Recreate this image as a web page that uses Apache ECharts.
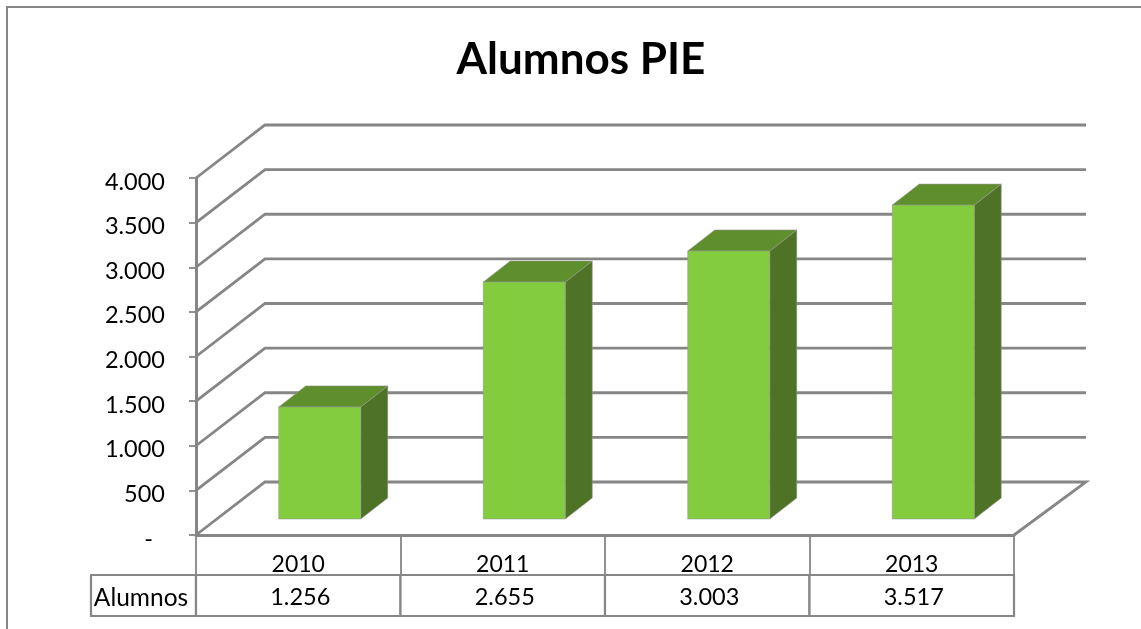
<!DOCTYPE html>
<html><head><meta charset="utf-8">
<style>html,body{margin:0;padding:0;background:#fff}#c{width:1141px;height:629px}</style>
<script src="https://cdn.jsdelivr.net/npm/echarts@6/dist/echarts.min.js"></script>
</head><body><div id="c"></div>
<script>
const titleText = 'Alumnos PIE';
const categories = ['2010', '2011', '2012', '2013'];
const seriesName = 'Alumnos';
const alumnos = [1256, 2655, 3003, 3517];
const ticks = [0, 500, 1000, 1500, 2000, 2500, 3000, 3500, 4000];

const FONT = 'Lato';
const LINE = '#868686';
const TEXT = '#000';
const fmt = v => v === 0 ? '-\u00a0\u00a0' : String(v).replace(/\B(?=(\d{3})+$)/g, '.');
// oblique projection used for the fake-3D look
const WALL = { dxL: 69, dxR: 72, dy: -53 };
const BAR = { shiftX: 21.5, shiftY: -16, widthRatio: 0.401, dx: 27, dy: -21 };
const TABLE = { top: 40, bottom: 81 };

function renderGrid(params, api) {
  const cs = params.coordSys;
  const v = api.value(0);
  const y = api.coord([0, v])[1];
  const x0 = cs.x, x1 = cs.x + cs.width;
  const pts = [[x0, y], [x0 + WALL.dxL, y + WALL.dy], [x1 + WALL.dxR, y + WALL.dy]];
  if (v === 0) pts.push([x1, y]);
  return { type: 'polyline', shape: { points: pts },
    style: { stroke: LINE, lineWidth: 2.8, fill: null, lineJoin: 'miter' } };
}
function renderBar(params, api) {
  const idx = api.value(0);
  const top = api.coord([idx, api.value(1)]);
  const base = api.coord([idx, 0]);
  const w = api.size([1, 0])[0] * BAR.widthRatio;
  const l = top[0] - w / 2 + BAR.shiftX, r = l + w;
  const t = top[1] + BAR.shiftY, b = base[1] + BAR.shiftY;
  const dx = BAR.dx, dy = BAR.dy;
  const edge = 'rgba(150,150,150,0.55)';
  return { type: 'group', children: [
    { type: 'polygon', shape: { points: [[r, t], [r + dx, t + dy], [r + dx, b + dy], [r, b]] },
      style: { fill: '#4f7326', stroke: edge, lineWidth: 1 } },
    { type: 'polygon', shape: { points: [[l, t], [l + dx, t + dy], [r + dx, t + dy], [r, t]] },
      style: { fill: '#5f8f2c', stroke: edge, lineWidth: 1 } },
    { type: 'rect', shape: { x: l, y: t, width: w, height: b - t },
      style: { fill: '#82cc3e', stroke: edge, lineWidth: 1 } }
  ] };
}
function renderCell(params, api) {
  const idx = api.value(0);
  const base = api.coord([idx, 0]);
  const w = api.size([1, 0])[0];
  const x = base[0] - w / 2, top = base[1] + TABLE.top, h = TABLE.bottom - TABLE.top;
  return { type: 'group', children: [
    { type: 'rect', shape: { x: x, y: top, width: w, height: h },
      style: { fill: '#fff', stroke: LINE, lineWidth: 2.2 } },
    { type: 'text', style: { x: base[0] + 2, y: top + h / 2 + 2, text: fmt(api.value(1)),
      font: '23.5px ' + FONT, fill: TEXT, align: 'center', verticalAlign: 'middle' } }
  ] };
}

const chart = echarts.init(document.getElementById('c'), null, { renderer: 'canvas' });
chart.setOption({
  animation: false,
  backgroundColor: '#fff',
  title: { text: titleText, left: 576, top: 33, textAlign: 'center',
    textStyle: { fontFamily: FONT, fontWeight: 'bold', fontSize: 44, color: '#000' } },
  grid: { left: 196, width: 818, top: 178, height: 357 },
  xAxis: { type: 'category', data: categories,
    axisLine: { lineStyle: { color: LINE, width: 3 } },
    axisTick: { show: true, length: 40, lineStyle: { color: LINE, width: 1.8 }, alignWithLabel: false },
    axisLabel: { fontFamily: FONT, fontSize: 23, color: TEXT, margin: 18, interval: 0 } },
  yAxis: { type: 'value', min: 0, max: 4000, interval: 500,
    axisLine: { show: true, lineStyle: { color: LINE, width: 3 } },
    axisTick: { show: true, length: 7, lineStyle: { color: LINE, width: 1.8 } },
    splitLine: { show: false },
    axisLabel: { fontFamily: FONT, fontSize: 23.5, color: TEXT, margin: 31, verticalAlign: 'top', lineHeight: 8, formatter: fmt } },
  graphic: [
    { type: 'polyline', shape: { points: [[7, 629], [7, 7], [1141, 7]] }, silent: true,
      style: { stroke: LINE, lineWidth: 2, fill: null } },
    { type: 'rect', shape: { x: 91, y: 575, width: 105, height: 41 }, silent: true,
      style: { fill: '#fff', stroke: LINE, lineWidth: 2.2 } },
    { type: 'text', x: 141, y: 598, silent: true,
      style: { text: seriesName, font: '24.5px ' + FONT, fill: TEXT, align: 'center', verticalAlign: 'middle' } }
  ],
  series: [
    { type: 'custom', name: 'grid', data: ticks.map(v => [v]), renderItem: renderGrid, silent: true, z: 1, clip: false, encode: { y: 0 } },
    { type: 'custom', name: seriesName, data: alumnos.map((v, i) => [i, v]), renderItem: renderBar, silent: true, z: 3, clip: false, encode: { x: 0, y: 1 } },
    { type: 'custom', name: 'tabla', data: alumnos.map((v, i) => [i, v]), renderItem: renderCell, silent: true, z: 4, clip: false, encode: { x: 0, y: 1 } }
  ]
});
</script></body></html>
